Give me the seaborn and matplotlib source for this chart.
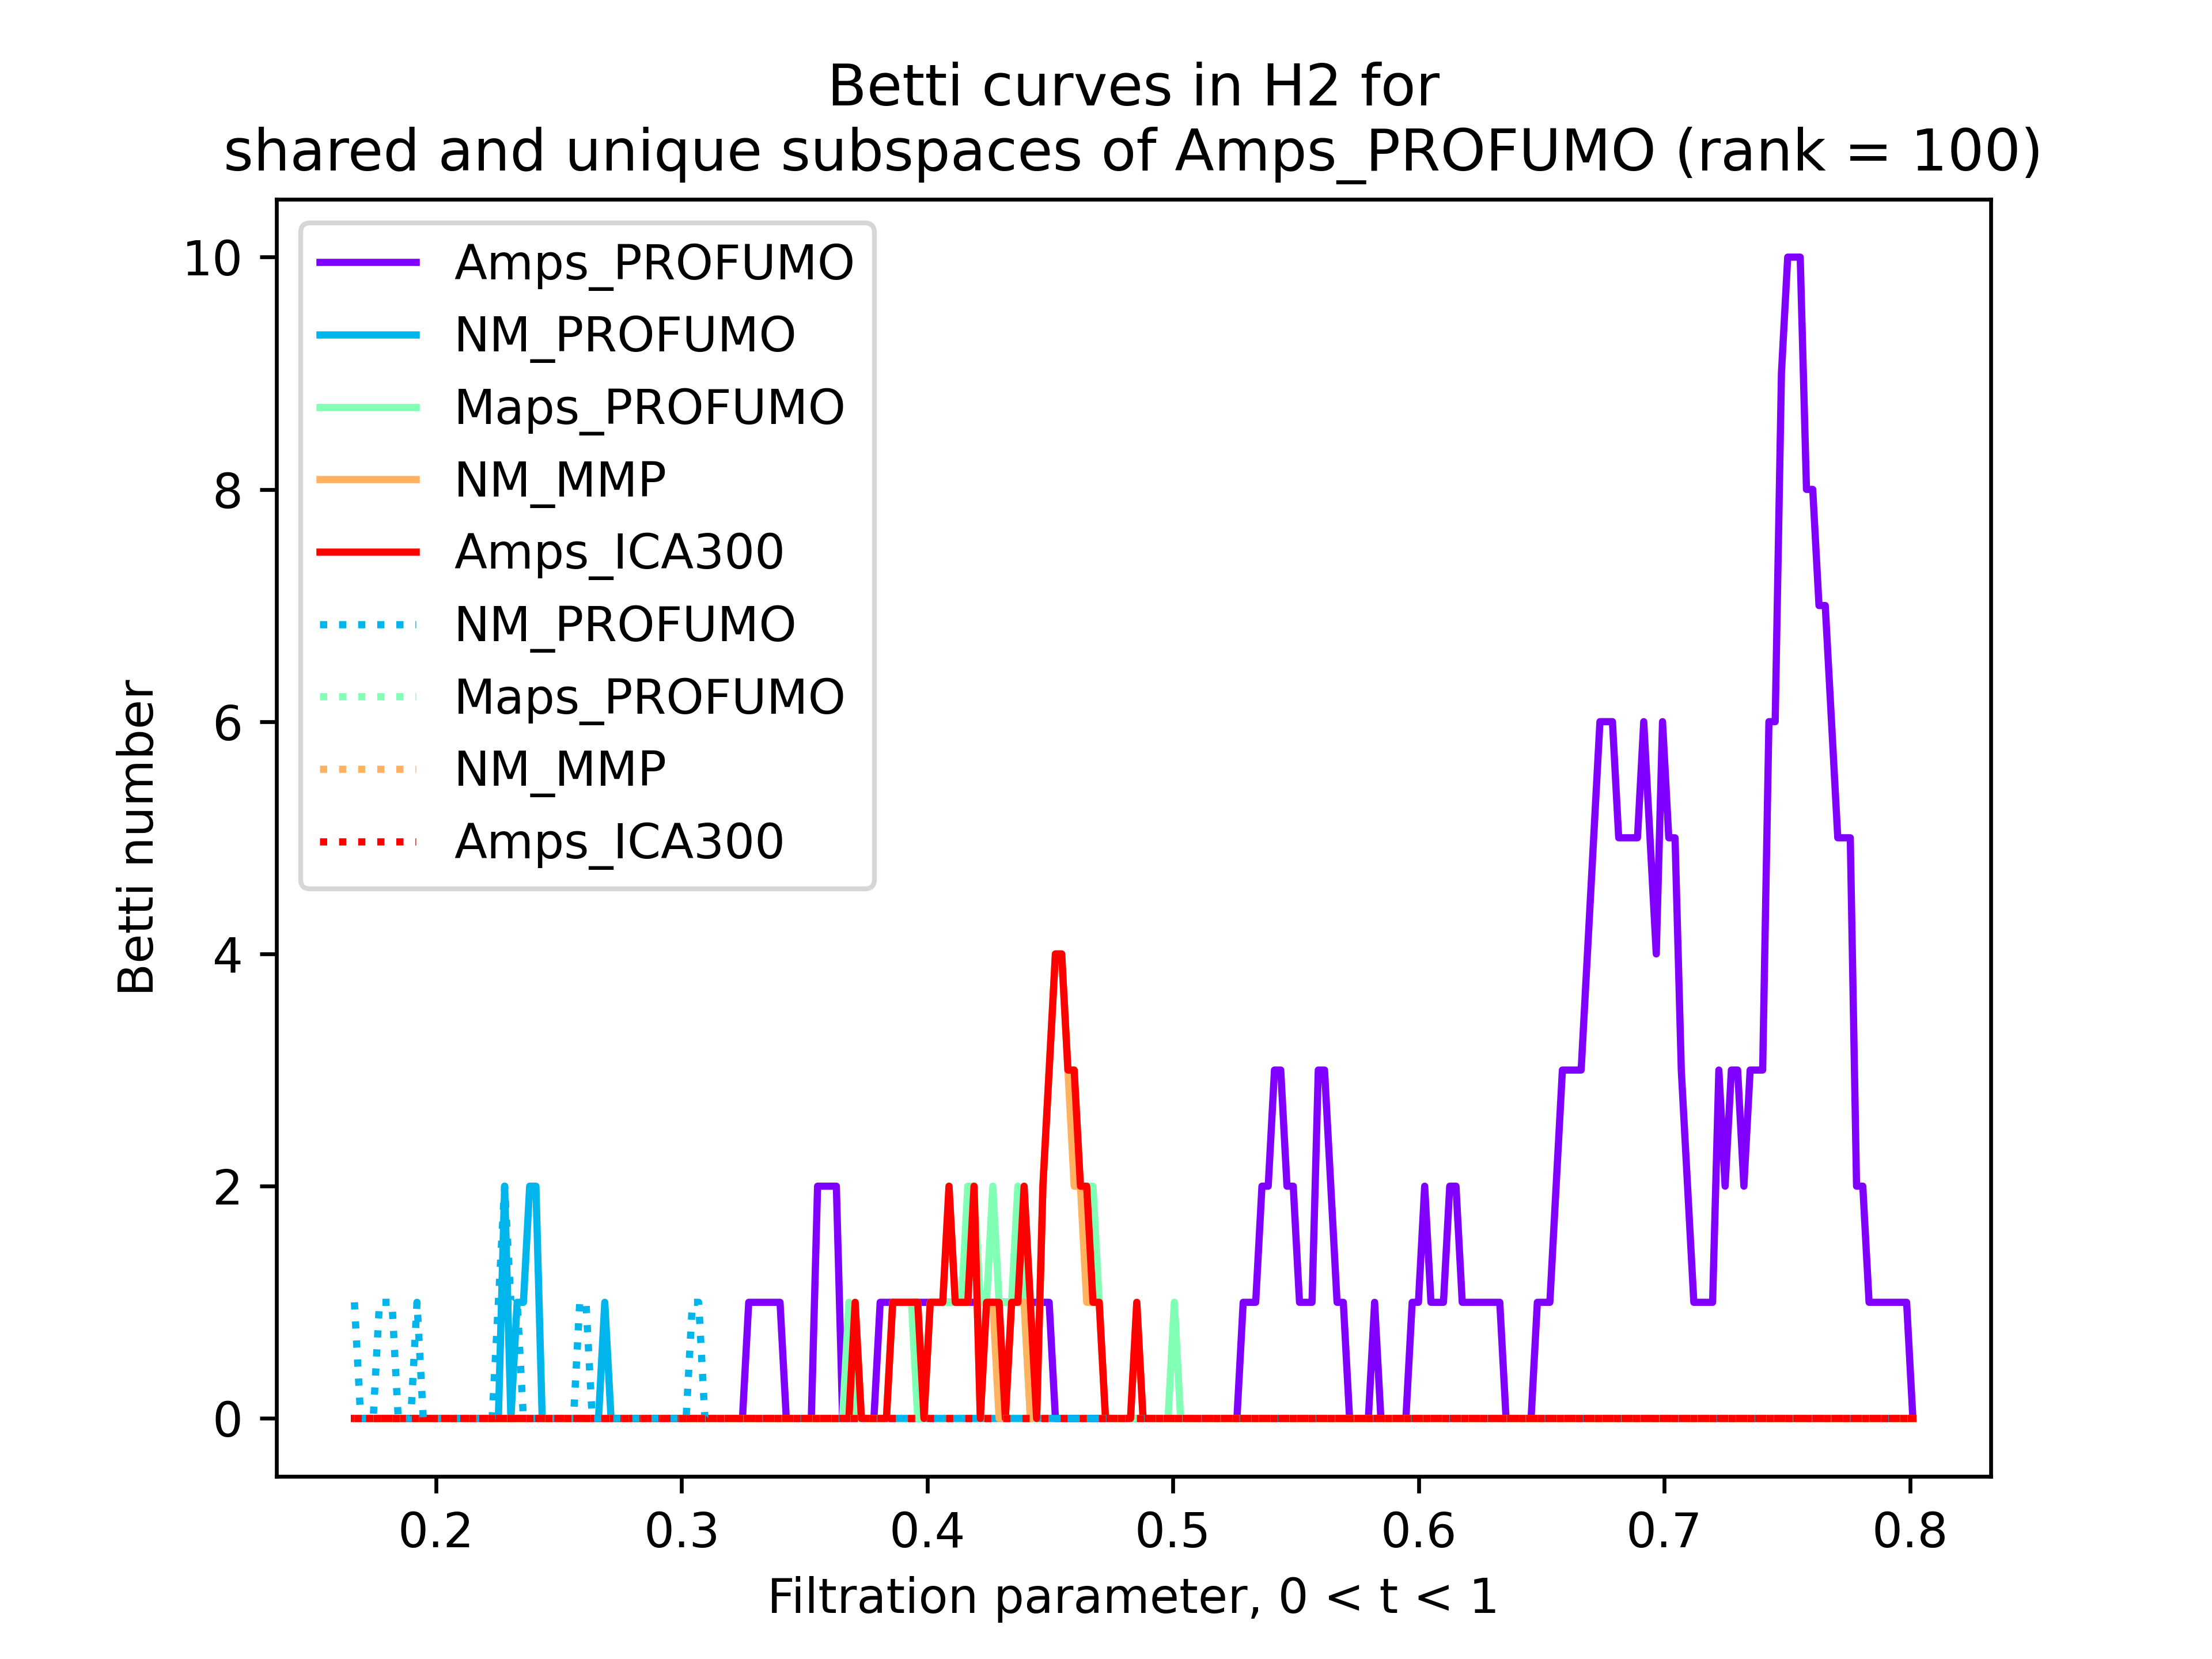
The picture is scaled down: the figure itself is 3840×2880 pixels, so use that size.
import numpy as np
import pandas as pd
import matplotlib
matplotlib.use("Agg")
import matplotlib.pyplot as plt
import seaborn as sns

# Filtration grid (sampling positions of the Betti curves)
T_START = 0.1668
T_END = 0.8012
N_STEPS = 250

# Betti numbers, stored as (first grid index, values)
# runs; every grid point not listed is 0.
AMPS_PROFUMO = [
    (63, [1, 1, 1, 1, 1, 1]),
    (74, [2, 2, 2, 2]),
    (84, [1, 1, 1, 1, 1, 1, 1, 1, 1, 1,
          1, 1, 1, 1, 1, 1, 1, 1, 1, 1,
          1, 1, 1, 1, 1, 1, 1, 1]),
    (142, [1, 1, 1, 2, 2, 3, 3, 2, 2, 1, 1, 1, 3, 3, 2, 1, 1]),
    (163, [1]),
    (169, [1, 1, 2, 1, 1, 1, 2, 2, 1, 1, 1, 1, 1, 1, 1]),
    (189, [1, 1, 1, 2, 3, 3, 3, 3, 4, 5,
           6, 6, 6, 5, 5, 5, 5, 6, 5, 4,
           6, 5, 5, 3, 2, 1, 1, 1, 1, 3,
           2, 3, 3, 2, 3, 3, 3, 6, 6, 9,
           10, 10, 10, 8, 8, 7, 7, 6, 5, 5,
           5, 2, 2, 1, 1, 1, 1, 1, 1, 1]),
]
NM_PROFUMO = [
    (24, [2]),
    (26, [1, 1, 2, 2]),
    (40, [1]),
]
MAPS_PROFUMO = [
    (79, [1]),
    (86, [1, 1, 1, 1]),
    (92, [1, 1, 1, 1, 1, 1, 2, 2, 1, 1, 2, 1, 1, 1, 2, 1]),
    (110, [2, 3, 4, 4, 3, 3, 2, 2, 2, 1]),
    (131, [1]),
]
NM_MMP = [
    (80, [1]),
    (86, [1, 1, 1, 1, 1]),
    (92, [1, 1, 1, 2, 1, 1, 1, 2, 0, 1, 1, 0, 0, 1,
          1, 1, 0, 0, 2, 3, 4, 4, 3, 2, 2, 1, 1, 1]),
    (125, [1]),
]
AMPS_ICA300 = [
    (80, [1]),
    (86, [1, 1, 1, 1, 1]),
    (92, [1, 1, 1, 2, 1, 1, 1, 2, 0, 1, 1, 1, 0, 1,
          1, 2, 1, 0, 2, 3, 4, 4, 3, 3, 2, 2, 1, 1]),
    (125, [1]),
]
# unique subspaces (dotted)
NM_PROFUMO_UNIQUE = [
    (0, [1]),
    (4, [1, 1, 1]),
    (10, [1]),
    (23, [1, 2, 1, 1]),
    (36, [1, 1]),
    (54, [1, 1]),
]
MAPS_PROFUMO_UNIQUE = []
NM_MMP_UNIQUE = []
AMPS_ICA300_UNIQUE = []

SHARED_NAMES = ["Amps_PROFUMO", "NM_PROFUMO", "Maps_PROFUMO", "NM_MMP", "Amps_ICA300"]
UNIQUE_NAMES = ["NM_PROFUMO", "Maps_PROFUMO", "NM_MMP", "Amps_ICA300"]


def expand(runs):
    vals = np.zeros(N_STEPS)
    for start, seg in runs:
        vals[start:start + len(seg)] = seg
    return vals


t = np.linspace(T_START, T_END, N_STEPS)
shared = [AMPS_PROFUMO, NM_PROFUMO, MAPS_PROFUMO, NM_MMP, AMPS_ICA300]
unique = [NM_PROFUMO_UNIQUE, MAPS_PROFUMO_UNIQUE, NM_MMP_UNIQUE, AMPS_ICA300_UNIQUE]

colors = plt.cm.rainbow(np.linspace(0, 1, 5))

fig, ax = plt.subplots(figsize=(6.4, 4.8), dpi=600)

for k, (name, runs) in enumerate(zip(SHARED_NAMES, shared)):
    df = pd.DataFrame({"t": t, "betti": expand(runs)})
    sns.lineplot(data=df, x="t", y="betti", color=colors[k], label=name,
                 estimator=None, errorbar=None, linewidth=1.5, ax=ax)
for k, (name, runs) in enumerate(zip(UNIQUE_NAMES, unique)):
    df = pd.DataFrame({"t": t, "betti": expand(runs)})
    sns.lineplot(data=df, x="t", y="betti", color=colors[k + 1], label=name,
                 estimator=None, errorbar=None, linewidth=1.5,
                 linestyle=":", ax=ax)

ax.set_xlabel("Filtration parameter, 0 < t < 1")
ax.set_ylabel("Betti number")
ax.set_title("Betti curves in H2 for\nshared and unique subspaces of Amps_PROFUMO (rank = 100)")
ax.legend(loc="upper left")

fig.savefig("out.png", dpi=600)
